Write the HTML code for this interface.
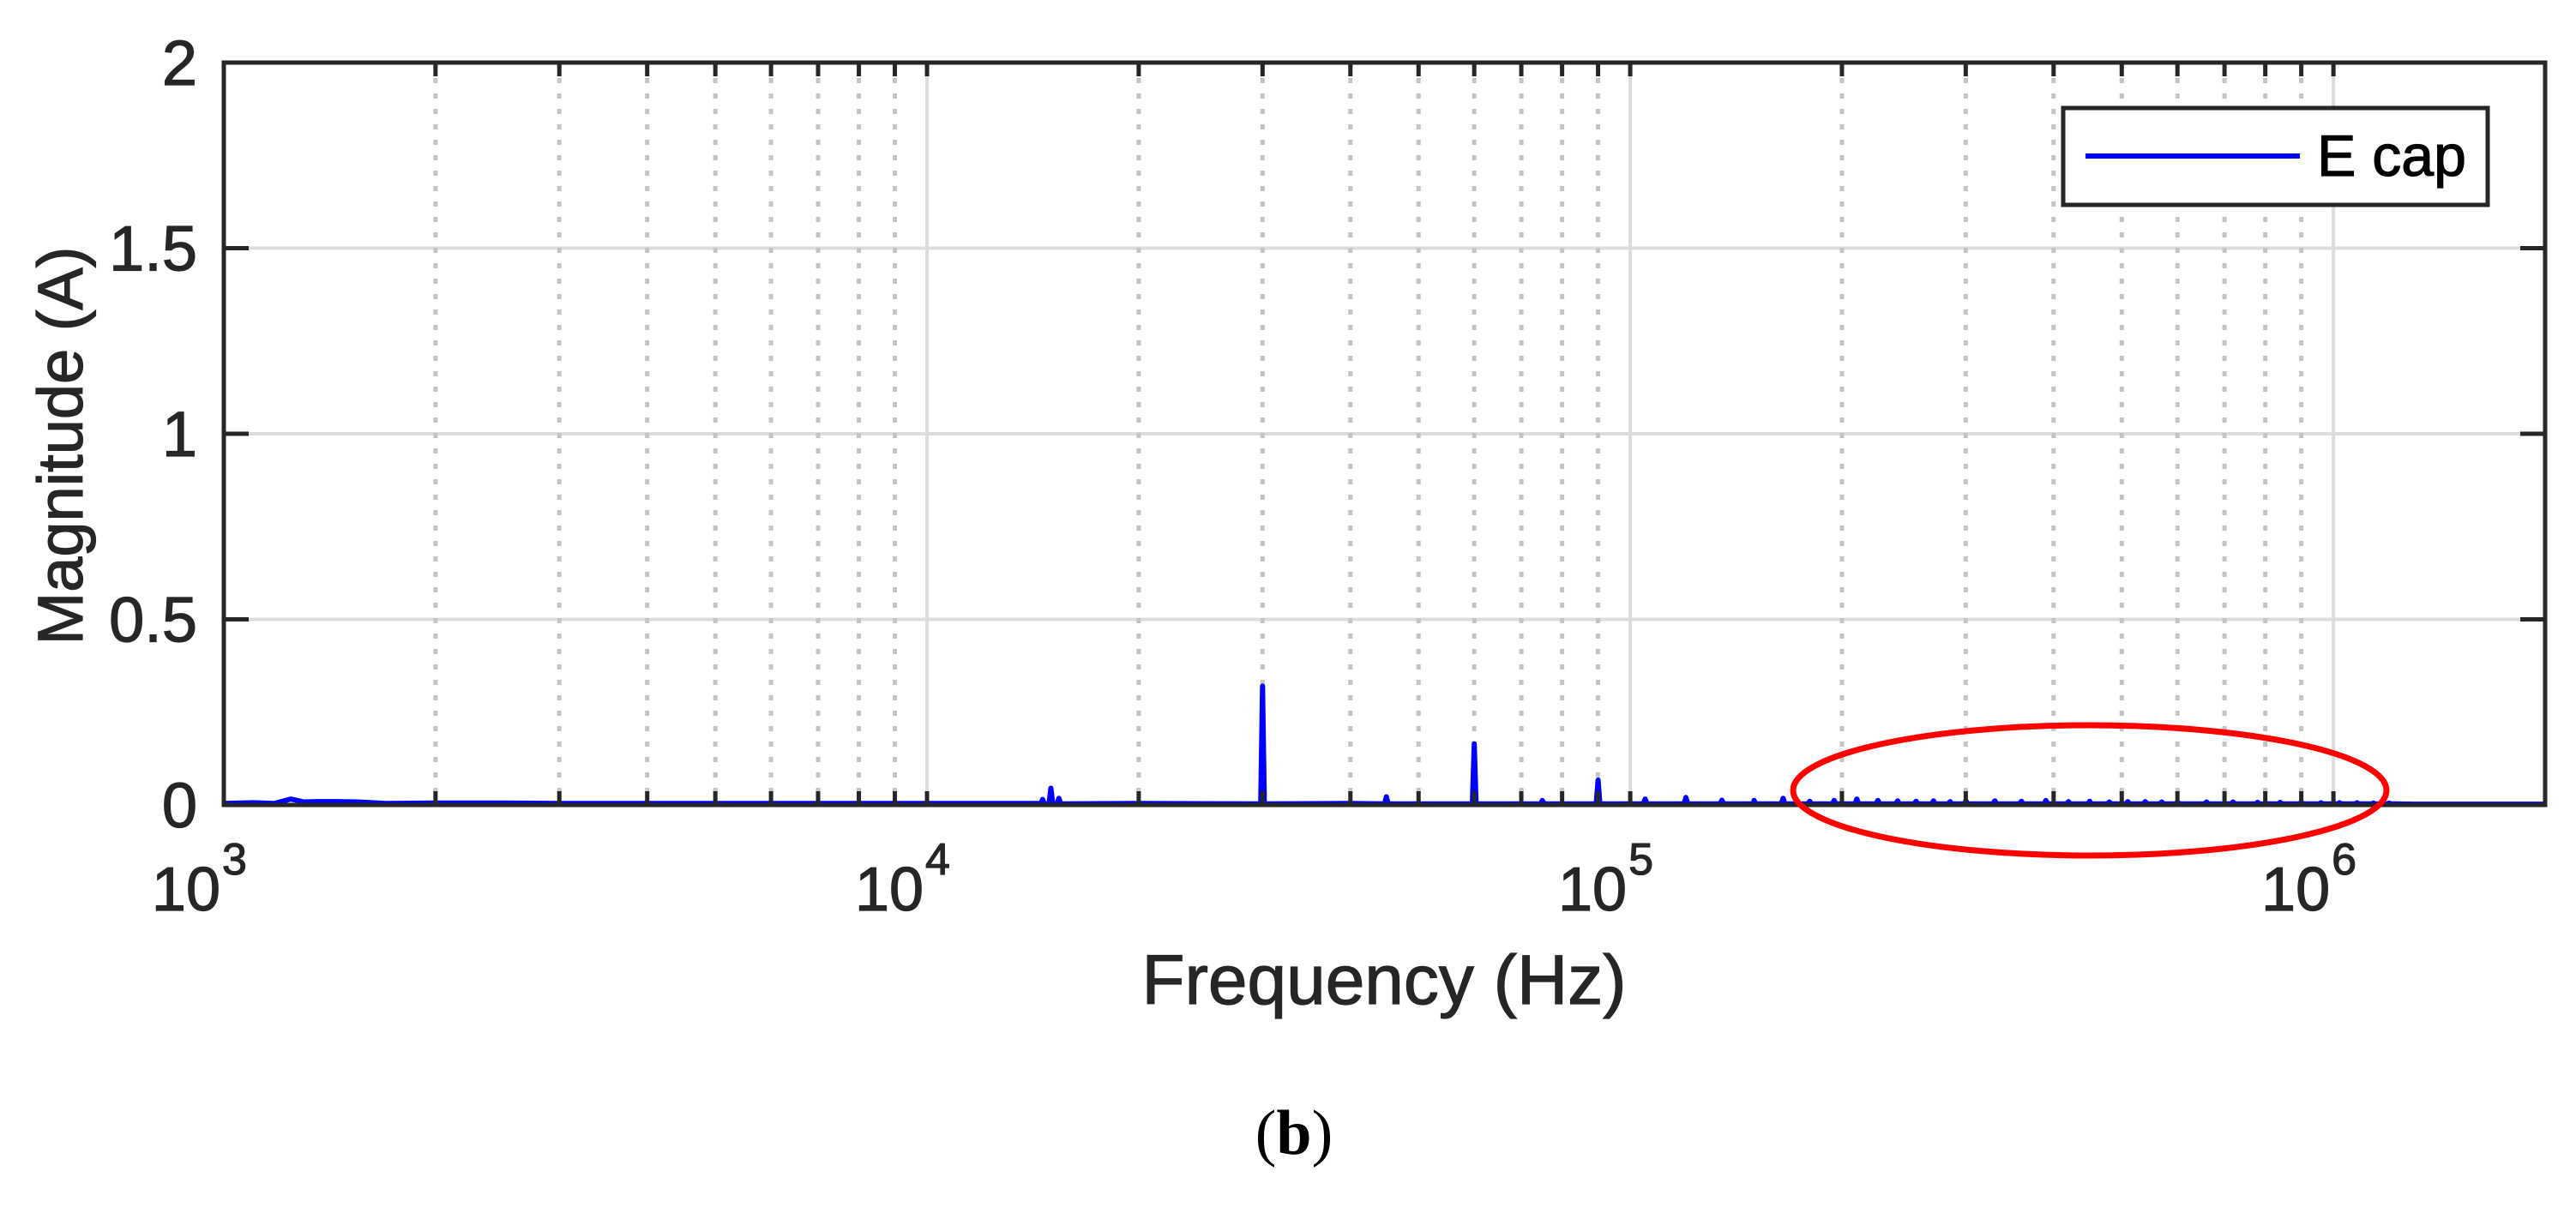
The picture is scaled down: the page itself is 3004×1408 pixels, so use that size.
<!DOCTYPE html>
<html><head><meta charset="utf-8"><style>
html,body{margin:0;padding:0;background:#fff}
svg{display:block}
text{font-family:"Liberation Sans",Arial,sans-serif;fill:#262626;stroke:#262626;stroke-width:1.2px}
</style></head><body>
<svg id="chart" width="3004" height="1408" viewBox="0 0 3004 1408" xmlns="http://www.w3.org/2000/svg">
<g id="grid"></g>
<g id="series"></g>
<g id="axes"></g>
<ellipse cx="2437" cy="922" rx="346" ry="76" fill="none" stroke="#ff0000" stroke-width="7"/>
<g>
<rect x="2406" y="126" width="495" height="113" fill="#fff" stroke="#262626" stroke-width="5"/>
<line x1="2432" y1="182" x2="2682" y2="182" stroke="#0000ff" stroke-width="6"/>
<text x="2702" y="205" font-size="68" style="fill:#000;stroke:#000">E cap</text>
</g>
<text x="1614" y="1171" font-size="82" text-anchor="middle">Frequency (Hz)</text>
<text transform="translate(96,520) rotate(-90)" font-size="74" text-anchor="middle">Magnitude (A)</text>
<text x="1509" y="1346" font-size="74" text-anchor="middle" style="font-family:'Liberation Serif',serif;fill:#000;stroke:none">(<tspan font-weight="bold">b</tspan>)</text>
</svg>
<script>
// data
const baseFreqs = [1000,1100,1180,1245,1300,1350,1450,1550,1700,2000,2500,3000,4000,6000,8000,10000,13000,14500,20000,40000,70000,100000,150000,300000,600000,1000000,1300000,2000000];
const baseMags  = [0.004,0.006,0.004,0.016,0.008,0.009,0.009,0.008,0.004,0.005,0.005,0.004,0.004,0.004,0.004,0.004,0.004,0.004,0.004,0.004,0.003,0.003,0.003,0.003,0.003,0.003,0.002,0.002];
const peakFreqs = [14600,15000,15400,30000,45000,60000,75000,90000,105000,120000,135000,150000,165000,180000,195000,210000,225000,240000,255000,270000,285000,300000,330000,360000,390000,420000,450000,480000,510000,540000,570000,600000,660000,720000,780000,840000,900000,960000,1020000,1080000,1140000,1200000];
const peakMags  = [0.015,0.045,0.018,0.32,0.022,0.165,0.012,0.067,0.016,0.02,0.013,0.012,0.018,0.01,0.012,0.016,0.012,0.011,0.01,0.011,0.009,0.012,0.011,0.01,0.012,0.009,0.01,0.008,0.009,0.009,0.008,0.009,0.008,0.008,0.007,0.007,0.007,0.006,0.006,0.006,0.005,0.005];
const yTicks = [0,0.5,1,1.5,2];
const yTickLabels = ["0","0.5","1","1.5","2"];
const xDecades = [1000,10000,100000,1000000];
const xDecadeExps = ["3","4","5","6"];

const L=261,R=2968,T=73,B=939;
const xmin=3, xmax=Math.log10(2e6);
const X=f=>L+(Math.log10(f)-xmin)/(xmax-xmin)*(R-L);
const Y=v=>B-(v/2)*(B-T);
const NS="http://www.w3.org/2000/svg";
function mk(tag,attrs,parent){const e=document.createElementNS(NS,tag);for(const k in attrs)e.setAttribute(k,attrs[k]);parent.appendChild(e);return e;}
const grid=document.getElementById('grid'),axes=document.getElementById('axes'),series=document.getElementById('series');

yTicks.forEach((v,i)=>{
  if(v>0&&v<2){const g=mk('line',{x1:L,x2:R,y1:Y(v),y2:Y(v),stroke:'#dcdcdc','stroke-width':4},grid);
  
  }
});
const minors=[];
for(let d=1000;d<=1e6;d*=10){for(let m=1;m<=9;m++){const f=d*m;if(f<=2e6)minors.push([f,m===1]);}}
minors.forEach(([f,maj])=>{
  const x=X(f);
  if(x>L+2&&x<R-2){
    const g=mk('line',{x1:x,x2:x,y1:T,y2:B,stroke:maj?'#dcdcdc':'#c4c4c4','stroke-width':maj?4:5,'stroke-dasharray':maj?'none':'6 12'},grid);
    
    
  }
  const t1=mk('line',{x1:x,x2:x,y1:B,y2:B-16,stroke:'#262626','stroke-width':5},axes);
  
  
  const t2=mk('line',{x1:x,x2:x,y1:T,y2:T+16,stroke:'#262626','stroke-width':5},axes);
  
  
});
xDecades.forEach((f,i)=>{
  const x=X(f);
  const t=mk('text',{x:x-4,y:1062,'font-size':72,'text-anchor':'end'},axes);
  t.textContent='10';
  
  
  const e=mk('text',{x:x-2,y:1020,'font-size':52,'text-anchor':'start'},axes);
  e.textContent=xDecadeExps[i];
  
  
});
yTicks.forEach((v,i)=>{
  const y=Y(v);
  const a=mk('line',{x1:L,x2:L+29,y1:y,y2:y,stroke:'#262626','stroke-width':5},axes);
  
  
  const b=mk('line',{x1:R,x2:R-29,y1:y,y2:y,stroke:'#262626','stroke-width':5},axes);
  
  
  const t=mk('text',{x:230,y:y+26,'font-size':74,'text-anchor':'end'},axes);
  t.textContent=yTickLabels[i];
  
  
});
const box=mk('rect',{x:L,y:T,width:R-L,height:B-T,fill:'none',stroke:'#262626','stroke-width':5},axes);



const pts=[];
baseFreqs.forEach((f,i)=>pts.push([f,baseMags[i]]));
peakFreqs.forEach((f,i)=>{pts.push([f*0.994,0.003]);pts.push([f,peakMags[i]]);pts.push([f*1.006,0.003]);});
pts.sort((a,b)=>a[0]-b[0]);
let d='';
pts.forEach((p,i)=>{d+=(i?'L':'M')+X(p[0]).toFixed(1)+' '+Y(p[1]).toFixed(1)+' ';});
const dk=mk('line',{x1:L,x2:R,y1:B-1,y2:B-1,stroke:'#262626','stroke-width':3},series);


const path=mk('path',{d:d,fill:'none',stroke:'#0000ff','stroke-width':6,'stroke-linejoin':'round'},series);


</script>
</body></html>
